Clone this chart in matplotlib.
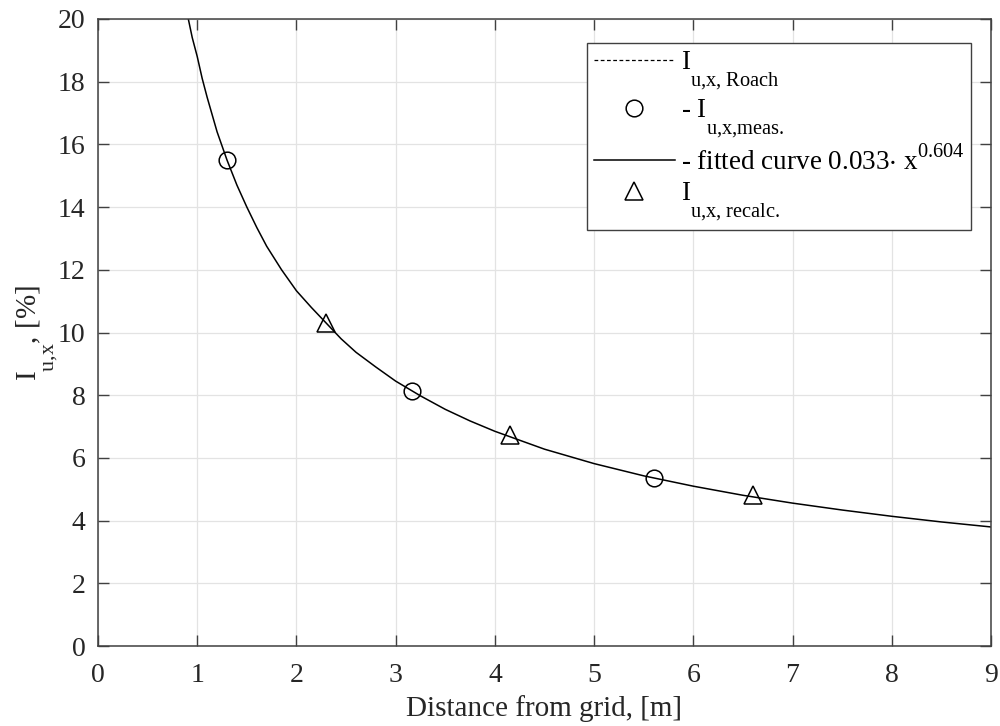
import matplotlib
matplotlib.use("Agg")
import matplotlib.pyplot as plt
import matplotlib._mathtext as _mt

plt.rcParams['font.family'] = ['Liberation Serif', 'DejaVu Serif']
plt.rcParams['mathtext.fontset'] = 'custom'
plt.rcParams['mathtext.rm'] = 'Liberation Serif'
plt.rcParams['mathtext.it'] = 'Liberation Serif:italic'
# deeper, larger subscripts like the reference
_mt.FontConstantsBase.sub1 = 1.35
_mt.FontConstantsBase.subdrop = 1.35
_mt.FontConstantsBase.sup1 = 0.85
_mt.SHRINK_FACTOR = 0.75

# fitted curve
curve_x = [0.91, 0.95, 1.0, 1.05, 1.1, 1.15, 1.2, 1.25, 1.3, 1.35, 1.4, 1.45, 1.5, 1.6, 1.7, 1.85, 2.0,
           2.15, 2.3, 2.45, 2.6, 2.8, 3.0, 3.25, 3.5, 3.75, 4.0, 4.5, 5.0, 5.5, 6.0, 6.5, 7.0, 7.5,
           8.0, 8.5, 9.0]
curve_y = [20.0, 19.4, 18.8, 18.1, 17.5, 16.95, 16.4, 15.95, 15.5, 15.1, 14.7, 14.35, 14.0, 13.35, 12.75,
           12.0, 11.33, 10.8, 10.3, 9.8, 9.37, 8.9, 8.45, 7.98, 7.55, 7.18, 6.85, 6.28, 5.82, 5.43, 5.10,
           4.81, 4.56, 4.34, 4.14, 3.96, 3.8]

meas_x = [1.3, 3.16, 5.6]
meas_y = [15.5, 8.12, 5.36]

recalc_x = [2.3, 4.15, 6.6]
recalc_y = [10.3, 6.72, 4.82]

x_ticks = [0, 1, 2, 3, 4, 5, 6, 7, 8, 9]
y_ticks = [0, 2, 4, 6, 8, 10, 12, 14, 16, 18, 20]

fig = plt.figure(figsize=(10, 7.26), dpi=100)
ax = fig.add_axes([0.098, 0.110, 0.893, 0.864])

axc = '#404040'
txtc = '#262626'
ax.plot([], [], ls=(0, (3, 2)), color='black', lw=0.9,
        label=r'$\mathregular{I_{u{,}x{,}\ Roach}}$')
ax.plot(meas_x, meas_y, ls='none', marker='o', ms=12, mfc='none', mec='black', mew=1.1,
        label=r'- $\mathregular{I_{u{,}x{,}meas.}}$', zorder=3)
ax.plot(curve_x, curve_y, color='black', lw=1.1,
        label=r'- fitted curve 0.033$\mathregular{\cdot}$ $\mathregular{x^{0.604}}$', zorder=2)
ax.plot(recalc_x, recalc_y, ls='none', marker='^', ms=13, mfc='none', mec='black', mew=1.1,
        label=r'$\mathregular{I_{u{,}x{,}\ recalc.}}$', zorder=3)

ax.set_xlim(0, 9)
ax.set_ylim(0, 20)
ax.set_xticks(x_ticks)
ax.set_yticks(y_ticks)
ax.grid(True, color='#e3e3e3', lw=0.9)
ax.set_axisbelow(True)
ax.tick_params(direction='in', length=8, width=1, colors=axc, labelcolor=txtc,
               labelsize=20, top=True, right=True, pad=9)
ax.tick_params(axis='x', pad=12)
for s in ax.spines.values():
    s.set_color(axc)
    s.set_linewidth(1.1)

ax.set_xlabel('Distance from grid, [m]', fontsize=21, color=txtc, labelpad=5)
ax.set_ylabel(r'$\mathregular{I_{u{,}x}}$, [%]', fontsize=21, color=txtc, labelpad=-2)

leg = ax.legend(loc='upper right', bbox_to_anchor=(0.9776, 0.962), borderaxespad=0,
                fontsize=19.5, frameon=True, fancybox=False, handlelength=3.0,
                handletextpad=0.2, labelspacing=0.2, borderpad=0.25)
leg.get_frame().set_edgecolor(axc)
leg.get_frame().set_linewidth(1.0)
leg.get_frame().set_alpha(1)

fig.savefig('out.png', dpi=100)
